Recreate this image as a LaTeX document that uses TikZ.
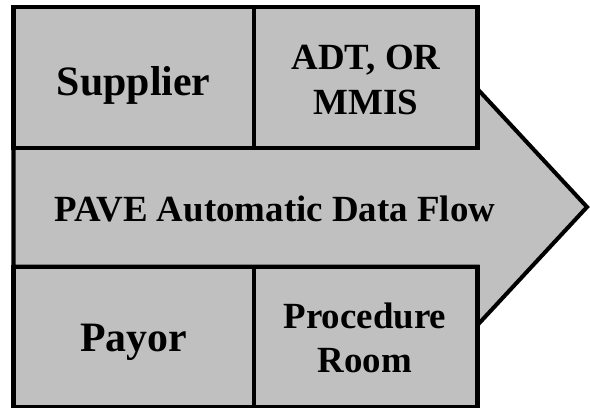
\documentclass[tikz,border=0pt]{standalone}
\usepackage{tikz,amsmath}
\usepackage{fontspec}
\setmainfont{Liberation Serif}
\definecolor{boxgray}{RGB}{192,192,192}

\begin{document}
\begin{tikzpicture}[scale=0.2]
		\tikzstyle{every node}+=[inner sep=0pt]
		\tikzstyle{cell}=[black, line width=2.3pt, fill=boxgray]
		\tikzstyle{bigtext}=[font=\bfseries\fontsize{23.8}{28}\selectfont]
		\tikzstyle{smalltext}=[font=\bfseries\fontsize{21}{25.2}\selectfont, align=center]
		\useasboundingbox (0,0) rectangle (59,-40.7);
		\draw [cell] (1.35,-14.77) -- (47.75,-14.77) -- (47.75,-8.9) -- (58.7,-20.7) -- (47.75,-32.5) -- (47.75,-26.67) -- (1.35,-26.67) -- cycle;
		\draw (27.5,-22.17) node [smalltext, anchor=base] (flow) {PAVE Automatic Data Flow};
		\draw [cell] (1.35,-0.73) rectangle (25.4,-14.77);
		\draw (13.37,-9.57) node [bigtext, anchor=base] (supplier) {Supplier};
		\draw [cell] (25.4,-0.73) rectangle (47.75,-14.77);
		\draw (36.6,-8.0) node [smalltext] (adt) {ADT, OR\\MMIS};
		\draw [cell] (1.35,-26.67) rectangle (25.4,-40.75);
		\draw (13.37,-35.1) node [bigtext, anchor=base] (payor) {Payor};
		\draw [cell] (25.4,-26.67) rectangle (47.75,-40.75);
		\draw (36.5,-33.8) node [smalltext] (room) {Procedure\\Room};
	\end{tikzpicture}
\end{document}
